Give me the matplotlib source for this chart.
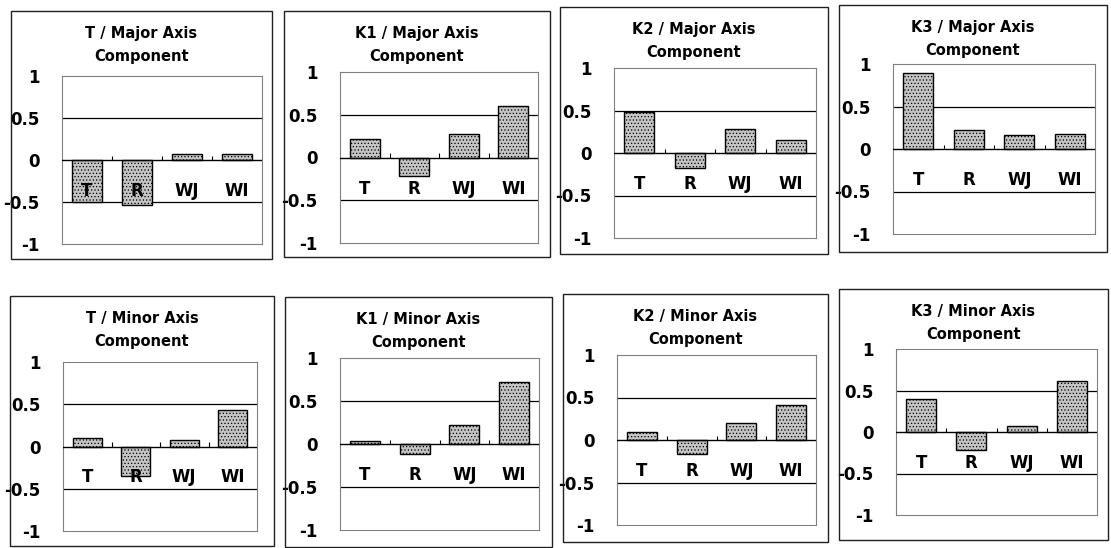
import matplotlib
matplotlib.use("Agg")
import matplotlib.pyplot as plt
from matplotlib.patches import Rectangle

plt.rcParams['font.family'] = ['DejaVu Sans']
plt.rcParams['hatch.linewidth'] = 0.5

categories = ["T", "R", "WJ", "WI"]
titles = ["T / Major Axis\nComponent", "K1 / Major Axis\nComponent",
          "K2 / Major Axis\nComponent", "K3 / Major Axis\nComponent",
          "T / Minor Axis\nComponent", "K1 / Minor Axis\nComponent",
          "K2 / Minor Axis\nComponent", "K3 / Minor Axis\nComponent"]

t_major = [-0.50, -0.53, 0.07, 0.07]
k1_major = [0.22, -0.22, 0.27, 0.60]
k2_major = [0.48, -0.18, 0.28, 0.15]
k3_major = [0.90, 0.22, 0.17, 0.18]
t_minor = [0.10, -0.35, 0.08, 0.43]
k1_minor = [0.04, -0.12, 0.22, 0.72]
k2_minor = [0.10, -0.17, 0.20, 0.41]
k3_minor = [0.40, -0.22, 0.07, 0.61]
series = [t_major, k1_major, k2_major, k3_major,
          t_minor, k1_minor, k2_minor, k3_minor]

yticks = [-1, -0.5, 0, 0.5, 1]
ytick_labels = ["-1", "-0.5", "0", "0.5", "1"]

# pixel layout: panel box (l, t, r, b) and plot area (l, t, r, b)
boxes = [(11, 11, 272, 259), (284, 11, 550, 257), (560, 7, 828, 254), (839, 5, 1107, 252),
         (10, 296, 274, 546), (285, 297, 552, 547), (563, 294, 828, 542), (839, 289, 1108, 540)]
areas = [(62, 76, 262, 244), (340, 72, 538, 243), (614, 68, 816, 238), (893, 64, 1095, 234),
         (63, 362, 257, 531), (340, 358, 539, 530), (617, 355, 816, 525), (896, 349, 1097, 515)]

W, H = 1111, 548
fig = plt.figure(figsize=(W / 100, H / 100), dpi=100)

for k in range(8):
    bl, bt, br, bb = boxes[k]
    fig.patches.append(Rectangle((bl / W, 1 - bb / H), (br - bl) / W, (bb - bt) / H,
                                 fill=False, edgecolor='#202020', linewidth=1.0,
                                 transform=fig.transFigure))
    fig.text((bl + br) / 2 / W, 1 - (bt + 34) / H, titles[k], ha='center', va='center',
             fontsize=10.5, fontweight='bold', linespacing=1.6)

    al, at, ar, ab = areas[k]
    ax = fig.add_axes([al / W, 1 - ab / H, (ar - al) / W, (ab - at) / H])
    ax.bar(range(4), series[k], width=0.6, color='#c4c4c4', edgecolor='black',
           hatch='.....', linewidth=1.0, zorder=3)
    ax.axhline(0.5, color='black', linewidth=0.9, zorder=1)
    ax.axhline(-0.5, color='black', linewidth=0.9, zorder=1)
    ax.axhline(0, color='black', linewidth=1.0, zorder=4)
    ax.vlines([0.5, 1.5, 2.5], 0, 0.05, color='black', linewidth=0.8, zorder=4)
    for i, c in enumerate(categories):
        ax.text(i, -0.26, c, ha='center', va='top', fontsize=12,
                fontweight='bold', zorder=5)
    ax.set_xlim(-0.5, 3.5)
    ax.set_ylim(-1, 1)
    ax.set_xticks([])
    ax.set_yticks(yticks)
    ax.set_yticklabels(ytick_labels, fontsize=12, fontweight='bold')
    ax.tick_params(axis='y', length=0, pad=16)
    for s in ax.spines.values():
        s.set_color('#808080')
        s.set_linewidth(0.8)

fig.savefig("out.png", dpi=100)
